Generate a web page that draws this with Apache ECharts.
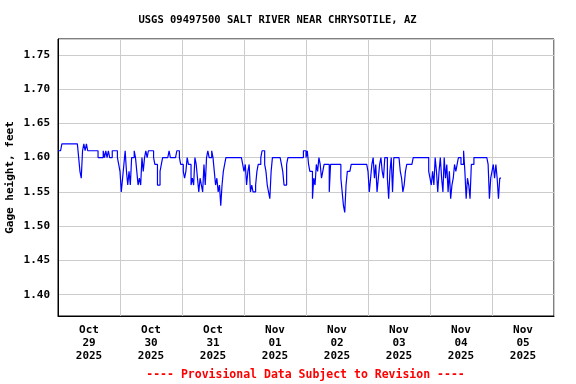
<!DOCTYPE html>
<html>
<head>
<meta charset="utf-8">
<script src="https://cdn.jsdelivr.net/npm/echarts@6/dist/echarts.min.js"></script>
<style>html,body{margin:0;padding:0;background:#fff;}#chart{width:576px;height:384px;}</style>
</head>
<body>
<div id="chart"></div>
<script>
// Tick labels (one per day, centred on each day band)
const dayMonths = ['Oct','Oct','Oct','Nov','Nov','Nov','Nov','Nov'];
const dayNums   = ['29','30','31','01','02','03','04','05'];
const dayYear   = '2025';

// Gage height, feet — half-hourly readings, one array per day (starting 00:00)
const oct29 = [1.61,1.61,1.61,1.62,1.62,1.62,1.62,1.62,1.62,1.62,1.62,1.62,1.62,1.62,1.62,1.62,
               1.60,1.58,1.57,1.61,1.62,1.61,1.62,1.61,1.61,1.61,1.61,1.61,1.61,1.61,1.61,1.60,
               1.60,1.60,1.60,1.61,1.60,1.61,1.60,1.61,1.60,1.60,1.61,1.61,1.61,1.61,1.60,1.59];
const oct30 = [1.58,1.55,1.57,1.59,1.61,1.58,1.56,1.58,1.56,1.60,1.60,1.61,1.60,1.58,1.56,1.57,
               1.56,1.60,1.58,1.60,1.61,1.60,1.61,1.61,1.61,1.61,1.60,1.59,1.59,1.56,1.56,1.58,
               1.59,1.60,1.60,1.60,1.60,1.60,1.61,1.60,1.60,1.60,1.60,1.60,1.61,1.61,1.60,1.59];
const oct31 = [1.59,1.58,1.57,1.58,1.60,1.59,1.59,1.56,1.57,1.56,1.60,1.59,1.57,1.55,1.57,1.56,
               1.55,1.59,1.56,1.60,1.61,1.60,1.60,1.61,1.60,1.58,1.56,1.57,1.55,1.56,1.53,1.56,
               1.58,1.59,1.60,1.60,1.60,1.60,1.60,1.60,1.60,1.60,1.60,1.60,1.60,1.60,1.60,1.59];
const nov01 = [1.58,1.59,1.56,1.58,1.59,1.55,1.56,1.55,1.55,1.56,1.58,1.59,1.59,1.60,1.61,1.61,
               1.59,1.58,1.56,1.55,1.54,1.58,1.60,1.60,1.60,1.60,1.60,1.60,1.60,1.59,1.58,1.56,
               1.56,1.59,1.60,1.60,1.60,1.60,1.60,1.60,1.60,1.60,1.60,1.60,1.60,1.60,1.61,1.61];
const nov02 = [1.60,1.61,1.59,1.58,1.58,1.54,1.57,1.56,1.59,1.58,1.60,1.59,1.57,1.58,1.59,1.59,
               1.59,1.59,1.55,1.59,1.59,1.59,1.59,1.59,1.59,1.59,1.59,1.57,1.55,1.53,1.52,1.56,
               1.58,1.58,1.58,1.59,1.59,1.59,1.59,1.59,1.59,1.59,1.59,1.59,1.59,1.59,1.59,1.59];
const nov03 = [1.58,1.55,1.57,1.59,1.60,1.57,1.59,1.55,1.57,1.59,1.60,1.58,1.57,1.60,1.60,1.57,
               1.54,1.58,1.60,1.55,1.60,1.60,1.60,1.60,1.60,1.58,1.57,1.55,1.56,1.58,1.59,1.59,
               1.59,1.59,1.59,1.60,1.60,1.60,1.60,1.60,1.60,1.60,1.60,1.60,1.60,1.60,1.60,1.58];
const nov04 = [1.57,1.56,1.58,1.56,1.60,1.58,1.55,1.58,1.60,1.57,1.55,1.60,1.57,1.59,1.55,1.58,
               1.54,1.56,1.57,1.59,1.58,1.59,1.60,1.60,1.59,1.59,1.61,1.58,1.54,1.57,1.56,1.54,
               1.59,1.59,1.60,1.60,1.60,1.60,1.60,1.60,1.60,1.60,1.60,1.60,1.60,1.59,1.54,1.57];
const nov05 = [1.58,1.59,1.57,1.59,1.57,1.54,1.57,1.57];

const days = [oct29, oct30, oct31, nov01, nov02, nov03, nov04, nov05];
const seriesData = [];
days.forEach((arr, d) => {
  arr.forEach((v, k) => seriesData.push([d * 24 + k * 0.5, v]));
});

const FONT = 'DejaVu Sans Mono';
const chart = echarts.init(document.getElementById('chart'), null, {renderer: 'canvas'});
chart.setOption({
  animation: false,
  backgroundColor: '#ffffff',
  grid: {left: 58, right: 22, top: 39, bottom: 68, containLabel: false, outerBoundsMode: 'none',
         show: true, borderColor: '#000', borderWidth: 1, backgroundColor: 'transparent'},
  graphic: [
    {type: 'text', x: 277.5, y: 20, style: {text: 'USGS 09497500 SALT RIVER NEAR CHRYSOTILE, AZ', font: 'bold 10.5px "' + FONT + '"', fill: '#000', align: 'center', verticalAlign: 'middle'}},
    {type: 'text', x: 305.5, y: 375, style: {text: '---- Provisional Data Subject to Revision ----', font: 'bold 11.5px "' + FONT + '"', fill: '#ff0000', align: 'center', verticalAlign: 'middle'}}
  ],
  xAxis: [
    {type: 'value', min: 0, max: 192, show: false, position: 'bottom'},
    {type: 'category', position: 'bottom', boundaryGap: true,
     data: dayNums.map((n, i) => dayMonths[i] + '\n' + n + '\n' + dayYear),
     axisLine: {show: true, lineStyle: {color: '#000', width: 1}},
     axisTick: {show: false},
     splitLine: {show: true, interval: 0, lineStyle: {color: '#cccccc', width: 1}},
     axisLabel: {interval: 0, margin: 8, color: '#000', fontFamily: FONT, fontWeight: 'bold', fontSize: 11, lineHeight: 13}}
  ],
  yAxis: {
    type: 'value', min: 1.369, max: 1.773, splitNumber: 8,
    name: 'Gage height, feet', nameLocation: 'middle', nameGap: 42, nameMoveOverlap: false,
    nameTextStyle: {color: '#000', fontFamily: FONT, fontWeight: 'bold', fontSize: 11},
    axisLine: {show: true, lineStyle: {color: '#000', width: 1}},
    axisTick: {show: false},
    splitLine: {show: true, lineStyle: {color: '#cccccc', width: 1}},
    axisLabel: {margin: 8, color: '#000', fontFamily: FONT, fontWeight: 'bold', fontSize: 11,
      formatter: v => (Math.abs(v * 20 - Math.round(v * 20)) < 1e-6 ? v.toFixed(2) : '')}
  },
  series: [{
    type: 'line', xAxisIndex: 0, data: seriesData, step: 'end', showSymbol: false,
    lineStyle: {color: '#0000ff', width: 1.2}, itemStyle: {color: '#0000ff'}
  }]
});
</script>
</body>
</html>
